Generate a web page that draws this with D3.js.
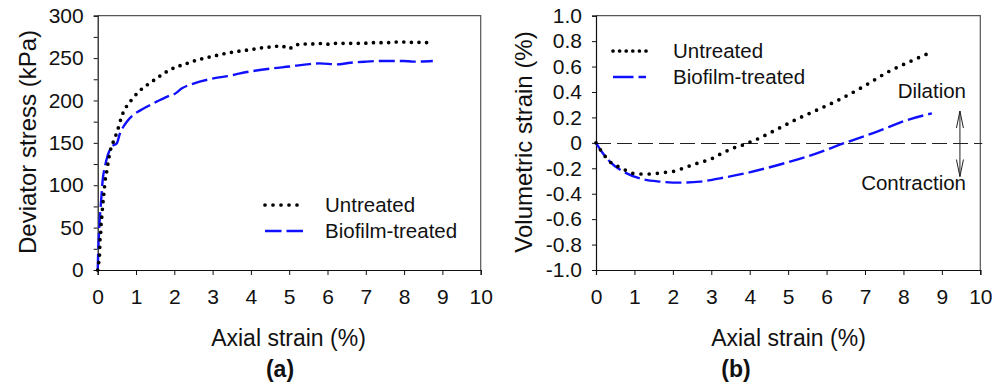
<!DOCTYPE html>
<html>
<head>
<meta charset="utf-8">
<script src="https://cdn.jsdelivr.net/npm/d3@7"></script>
<style>
  body { margin: 0; background: #fff; }
  text { font-family: "Liberation Sans", Arial, sans-serif; fill: #111; }
</style>
</head>
<body>
<div id="chart"></div>
<script>
// (a) deviator stress vs axial strain
const stressUntreated = [
  [0, 0], [0.03, 10], [0.05, 20], [0.06, 36], [0.08, 45], [0.09, 55], [0.11, 64],
  [0.13, 76], [0.15, 85], [0.17, 94], [0.19, 104], [0.22, 112], [0.32, 139],
  [0.45, 156], [0.52, 165], [0.64, 183], [0.74, 192], [0.89, 201], [1.06, 210],
  [1.25, 217], [1.44, 223], [1.63, 229], [1.80, 234], [2.02, 239], [2.22, 242],
  [2.41, 245], [2.61, 248], [2.80, 250], [2.99, 252], [3.19, 254], [3.39, 256],
  [3.59, 257.5], [3.79, 258.7], [3.99, 260], [4.19, 261.5], [4.39, 262.7],
  [4.59, 263.4], [4.79, 264.6], [4.98, 261], [5.17, 265.5], [5.37, 266.6],
  [5.56, 266.6], [5.76, 267.4], [5.96, 266.2], [6.17, 267.4], [6.57, 267.4],
  [6.95, 267.4], [7.15, 268.2], [7.54, 268.2], [7.74, 269], [7.95, 269],
  [8.15, 268.6], [8.34, 268.6], [8.54, 268.2], [8.74, 269.8]
];
const stressBiofilm = [
  [0, 0], [0.02, 30], [0.04, 50], [0.07, 70], [0.1, 88], [0.13, 106], [0.18, 120],
  [0.23, 130], [0.3, 140], [0.37, 145.5], [0.5, 149.5], [0.58, 161], [0.67, 169],
  [0.76, 175], [0.93, 183], [1.1, 188], [1.28, 192.6], [1.54, 198.6], [1.89, 206],
  [2.02, 208], [2.19, 214], [2.5, 220], [3.02, 226], [3.54, 230], [3.72, 232],
  [4.1, 235], [4.59, 238], [5.0, 240], [5.46, 242.6], [5.80, 243.8], [6.24, 242.6],
  [6.6, 244.5], [7.02, 245.8], [7.37, 246.6], [7.98, 246.6], [8.24, 245.8], [8.75, 246.6]
];

// (b) volumetric strain vs axial strain
const volUntreated = [
  [0, 0], [0.15, -0.07], [0.36, -0.148], [0.58, -0.187], [0.80, -0.219], [0.97, -0.24],
  [1.19, -0.245], [1.39, -0.245], [1.58, -0.24], [1.80, -0.232], [1.97, -0.227],
  [2.19, -0.208], [2.38, -0.187], [2.58, -0.166], [2.77, -0.148], [2.97, -0.13],
  [3.16, -0.10], [3.36, -0.07], [3.55, -0.043], [3.75, -0.025], [3.95, 0.0],
  [4.14, 0.022], [4.6, 0.09], [5.27, 0.193], [5.8, 0.265], [6.31, 0.337],
  [7.0, 0.45], [7.61, 0.56], [8.1, 0.63], [8.69, 0.709]
];
const volBiofilm = [
  [0, 0], [0.15, -0.07], [0.36, -0.148], [0.8, -0.24], [1.23, -0.287], [1.67, -0.305],
  [2.19, -0.313], [2.71, -0.305], [3.23, -0.279], [3.88, -0.24], [4.74, -0.174],
  [5.61, -0.096], [6.48, 0], [7.35, 0.093], [8.04, 0.174], [8.74, 0.232]
];

const xTicks = [0, 1, 2, 3, 4, 5, 6, 7, 8, 9, 10];
const stressTicks = [0, 25, 50, 75, 100, 125, 150, 175, 200, 225, 250, 275, 300];
const volTicks = [-1, -0.8, -0.6, -0.4, -0.2, 0, 0.2, 0.4, 0.6, 0.8, 1];
const seriesNames = ["Untreated", "Biofilm-treated"];

const W = 995, H = 386;
const svg = d3.select("#chart").append("svg")
  .attr("width", W).attr("height", H);

const plotTop = 15.7, plotBottom = 270;
const blue = "#1010ff";

function styleDots(sel, gap) {
  return sel.attr("fill", "none").attr("stroke", "#000")
    .attr("stroke-width", 3.7).attr("stroke-linecap", "round")
    .attr("stroke-dasharray", `0,${gap}`);
}
function styleDash(sel) {
  return sel.attr("fill", "none").attr("stroke", blue)
    .attr("stroke-width", 2.4).attr("stroke-dasharray", "16,5");
}

function panel(opts) {
  const x = d3.scaleLinear().domain([0, 10]).range([opts.left, opts.right]);
  const y = d3.scaleLinear().domain(opts.yDomain).range([plotBottom, plotTop]);
  const g = svg.append("g");

  // top and right frame
  g.append("path")
    .attr("d", `M${opts.left},${plotTop}H${opts.right}V${plotBottom}`)
    .attr("fill", "none").attr("stroke", "#555").attr("stroke-width", 1.2);

  const xa = g.append("g").attr("transform", `translate(0,${plotBottom})`)
    .call(d3.axisBottom(x).tickValues(xTicks).tickSize(5).tickPadding(14)
      .tickFormat(d3.format("d")));
  const ya = g.append("g").attr("transform", `translate(${opts.left},0)`)
    .call(d3.axisLeft(y).tickValues(opts.yTicks).tickSize(4).tickPadding(10)
      .tickFormat(opts.yFormat));
  [xa, ya].forEach(a => {
    a.select(".domain").attr("stroke", "#111").attr("stroke-width", 1.2);
    a.selectAll(".tick line").attr("stroke", "#111");
    a.selectAll("text").style("font-size", "21px")
      .style("font-family", "'Liberation Sans', Arial, sans-serif").attr("fill", "#111");
  });

  if (opts.zeroLine) {
    const y0 = Math.round(y(0)) + 0.5;
    g.append("line")
      .attr("x1", x(0)).attr("x2", opts.right + 2)
      .attr("y1", y0).attr("y2", y0)
      .attr("stroke", "#222").attr("stroke-width", 1)
      .attr("stroke-dasharray", "15,6");
  }

  const line = d3.line().x(d => x(d[0])).y(d => y(d[1])).curve(d3.curveMonotoneX);
  styleDash(g.append("path").datum(opts.biofilm).attr("d", line));
  styleDots(g.append("path").datum(opts.untreated).attr("d", line), opts.dotGap);

  // legend
  const lg = g.append("g");
  const lx0 = opts.legend.x0, lx1 = opts.legend.x1;
  styleDots(lg.append("line").attr("x1", lx0).attr("x2", lx1)
    .attr("y1", opts.legend.y).attr("y2", opts.legend.y), opts.legend.gap);
  styleDash(lg.append("line").attr("x1", lx0).attr("x2", lx1)
    .attr("y1", opts.legend.y + 26).attr("y2", opts.legend.y + 26))
    .attr("stroke-dasharray", opts.legend.dash);
  seriesNames.forEach((n, i) => {
    lg.append("text").attr("x", opts.legend.tx).attr("y", opts.legend.y + 7 + i * 26)
      .style("font-size", "20.5px").text(n);
  });

  // axis titles
  g.append("text").attr("x", opts.xTitleX).attr("y", 345.5)
    .attr("text-anchor", "middle").style("font-size", "23px").text("Axial strain (%)");
  g.append("text").attr("transform", `translate(${opts.yTitleX},142) rotate(-90)`)
    .attr("text-anchor", "middle").style("font-size", "24px").text(opts.yTitle);
  g.append("text").attr("x", opts.labelX).attr("y", 377)
    .attr("text-anchor", "middle").style("font-size", "23px").style("font-weight", "bold")
    .text(opts.label);

  return { x, y, g };
}

panel({
  left: 97.7, right: 480.7, yDomain: [0, 300], yTicks: stressTicks,
  yFormat: d => (d % 50 === 0 ? d : ""),
  untreated: stressUntreated, biofilm: stressBiofilm, dotGap: 7.6,
  legend: { x0: 265, x1: 305, y: 205, tx: 325, gap: 8, dash: "16.5,5" },
  xTitleX: 288.5, yTitleX: 36, yTitle: "Deviator stress (kPa)", labelX: 280, label: "(a)"
});

const pb = panel({
  left: 596, right: 980.3, yDomain: [-1, 1], yTicks: volTicks,
  yFormat: d => (Math.abs(d) < 1e-9 ? "0" : d3.format(".1f")(d).replace("−", "-")),
  untreated: volUntreated, biofilm: volBiofilm, dotGap: 8.2, zeroLine: true,
  legend: { x0: 613, x1: 646, y: 51, tx: 673, gap: 6.6, dash: "20.5,5" },
  xTitleX: 788.5, yTitleX: 532, yTitle: "Volumetric strain (%)", labelX: 736, label: "(b)"
});

// dilation / contraction annotation
const arrowX = 9.47, arrowTop = 0.25, arrowBot = -0.265;
const ax = pb.x(arrowX), ay1 = pb.y(arrowTop), ay2 = pb.y(arrowBot);
pb.g.append("path")
  .attr("d", `M${ax},${ay1}V${ay2}M${ax - 3.5},${ay1 + 17}L${ax},${ay1}L${ax + 3.5},${ay1 + 17}` +
    `M${ax - 3.5},${ay2 - 17}L${ax},${ay2}L${ax + 3.5},${ay2 - 17}`)
  .attr("fill", "none").attr("stroke", "#222").attr("stroke-width", 1);
pb.g.append("text").attr("x", 966).attr("y", 98).attr("text-anchor", "end")
  .style("font-size", "20.5px").text("Dilation");
pb.g.append("text").attr("x", 966).attr("y", 190).attr("text-anchor", "end")
  .style("font-size", "20.5px").text("Contraction");
</script>
</body>
</html>
